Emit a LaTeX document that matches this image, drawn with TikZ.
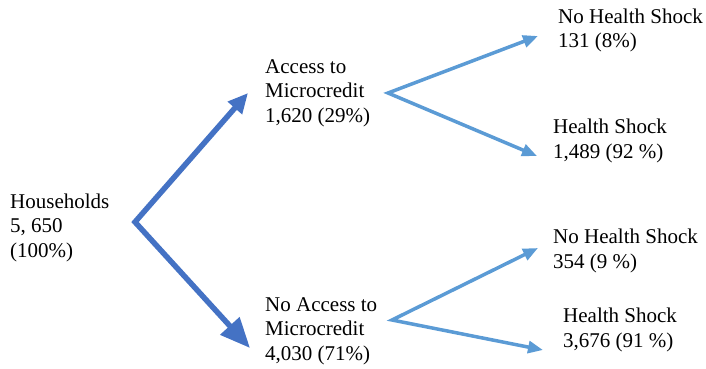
\documentclass[tikz,border=0pt]{standalone}
\usepackage{fontspec}
\setmainfont{Liberation Serif}
\usetikzlibrary{arrows.meta}
\definecolor{trunkblue}{RGB}{68,114,196}
\definecolor{branchblue}{RGB}{91,155,213}
\tikzset{
    x=1pt,
    y=-1pt,
    count/.style={align=left, inner sep=0pt, anchor=base west,
        font=\fontsize{21}{24.5}\selectfont},
    trunk/.style={draw=trunkblue, line width=5.5pt, miter limit=20},
    branch/.style={draw=branchblue, line width=3.5pt, miter limit=20,
        {Triangle[length=15pt,width=12pt]}-{Triangle[length=15pt,width=12pt]}},
}

\begin{document}
\begin{tikzpicture}
    \useasboundingbox (0,0) rectangle (706,369);

        % nodes sit on the baseline of their last line
        \node[count] (hh) at (10,257) {Households\\5, 650\\(100\%)};
        \node[count] (acc) at (265,122) {Access to\\Microcredit\\1,620 (29\%)};
        \node[count] (noacc) at (265,360) {No Access to\\Microcredit\\4,030 (71\%)};
        \node[count] (accno) at (558,48) {No Health Shock\\131 (8\%)};
        \node[count] (accyes) at (553,158) {Health Shock\\1,489 (92 \%)};
        \node[count] (noaccno) at (553,268) {No Health Shock\\354 (9 \%)};
        \node[count] (noaccyes) at (563,347) {Health Shock\\3,676 (91 \%)};

        % split points of the tree
        \coordinate (hhfork) at (135,222);
        \coordinate (accfork) at (388,93);
        \coordinate (noaccfork) at (392,320);

    % households split by access
    \draw[trunk, {Triangle[length=20pt,width=18pt]}-{Triangle[length=30pt,width=25pt]}]
        ([shift={(-17,-29)}]acc.base west) -- (hhfork) -- ([shift={(-15,-12)}]noacc.base west);

    % health shock split
    \draw[branch]
        ([shift={(-20,-12)}]accno.base west) -- (accfork) -- ([shift={(-16,-2)}]accyes.base west);
    \draw[branch]
        ([shift={(-15,-20)}]noaccno.base west) -- (noaccfork) -- ([shift={(-20,3)}]noaccyes.base west);
\end{tikzpicture}
\end{document}
